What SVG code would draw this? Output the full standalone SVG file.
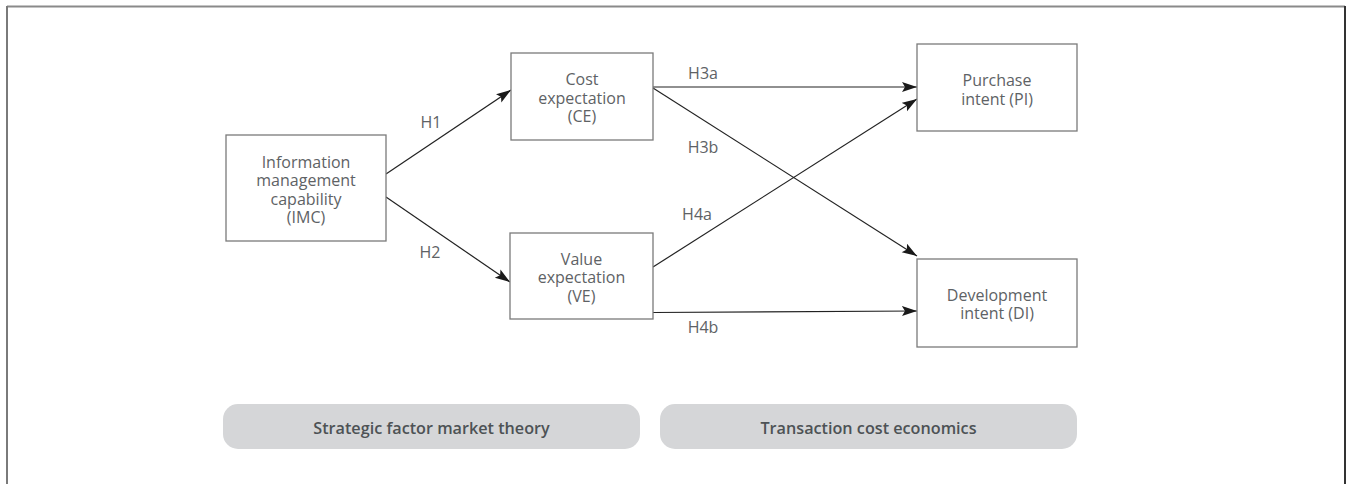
<svg xmlns="http://www.w3.org/2000/svg" width="1348" height="484" viewBox="0 0 1348 484">
  <style>
    .box { fill: #ffffff; stroke: #7a7a7a; stroke-width: 1.3; }
    .t { font-family: "Open Sans", "Liberation Sans", sans-serif; font-size: 16px; fill: #5e6265; text-anchor: middle; }
    .lbl { font-family: "Open Sans", "Liberation Sans", sans-serif; font-size: 16px; fill: #5e6265; text-anchor: middle; }
    .conn { stroke: #222222; stroke-width: 1.2; fill: none; marker-end: url(#arr); }
    .pill { fill: #d5d6d8; }
    .pt { font-family: "Open Sans", "Liberation Sans", sans-serif; font-size: 16.2px; font-weight: 600; fill: #4d5255; text-anchor: middle; }
  </style>
  <defs>
    <marker id="arr" markerUnits="userSpaceOnUse" markerWidth="16" markerHeight="12" refX="15" refY="5" orient="auto">
      <path d="M0,0 L15,5 L0,10 L3,5 Z" fill="#1a1a1a"/>
    </marker>
  </defs>
  <rect width="1348" height="484" fill="#ffffff"/>
  <g id="frame">
    <line x1="7" y1="6.5" x2="1345" y2="6.5" stroke="#8a8a8a" stroke-width="2"/>
    <line x1="7" y1="6" x2="7" y2="484" stroke="#7a7a7a" stroke-width="2"/>
    <line x1="1345" y1="6" x2="1345" y2="484" stroke="#333333" stroke-width="2"/>
  </g>
  <g id="connectors">
    <line class="conn" x1="386" y1="174" x2="511" y2="90"/>
    <line class="conn" x1="386" y1="197" x2="510" y2="282"/>
    <line class="conn" x1="653" y1="87" x2="917" y2="87"/>
    <line class="conn" x1="653" y1="88" x2="917" y2="256"/>
    <line class="conn" x1="653" y1="267" x2="917" y2="99"/>
    <line class="conn" x1="653" y1="312.5" x2="917" y2="311"/>
    <text class="lbl" x="431" y="128">H1</text>
    <text class="lbl" x="430" y="258">H2</text>
    <text class="lbl" x="703" y="79">H3a</text>
    <text class="lbl" x="703" y="153">H3b</text>
    <text class="lbl" x="697" y="220">H4a</text>
    <text class="lbl" x="703" y="333">H4b</text>
  </g>
  <g id="imc">
    <rect class="box" x="226" y="135" width="160" height="106"/>
    <text class="t" x="306" y="168"><tspan x="306" y="168">Information</tspan><tspan x="306" y="186.3">management</tspan><tspan x="306" y="204.6">capability</tspan><tspan x="306" y="222.9">(IMC)</tspan></text>
  </g>
  <g id="ce">
    <rect class="box" x="511" y="53" width="142" height="87"/>
    <text class="t" x="582" y="85"><tspan x="582" y="85">Cost</tspan><tspan x="582" y="103.5">expectation</tspan><tspan x="582" y="121.8">(CE)</tspan></text>
  </g>
  <g id="ve">
    <rect class="box" x="510" y="233" width="143" height="86"/>
    <text class="t" x="581.5" y="264.5"><tspan x="581.5" y="264.5">Value</tspan><tspan x="581.5" y="283">expectation</tspan><tspan x="581.5" y="301.5">(VE)</tspan></text>
  </g>
  <g id="pi">
    <rect class="box" x="917" y="44" width="160" height="87"/>
    <text class="t" x="997" y="86"><tspan x="997" y="86">Purchase</tspan><tspan x="997" y="105">intent (PI)</tspan></text>
  </g>
  <g id="di">
    <rect class="box" x="917" y="259" width="160" height="88"/>
    <text class="t" x="997" y="300.5"><tspan x="997" y="300.5">Development</tspan><tspan x="997" y="319">intent (DI)</tspan></text>
  </g>
  <g id="sfmt">
    <rect class="pill" x="223" y="404" width="417" height="45" rx="15"/>
    <text class="pt" x="431.5" y="434">Strategic factor market theory</text>
  </g>
  <g id="tce">
    <rect class="pill" x="660" y="404" width="417" height="45" rx="15"/>
    <text class="pt" x="868.5" y="434">Transaction cost economics</text>
  </g>
</svg>
